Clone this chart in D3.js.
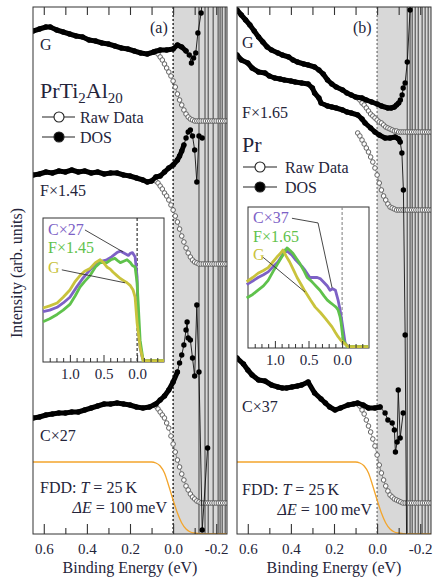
<!DOCTYPE html>
<html>
<head>
<meta charset="utf-8">
<script src="https://cdn.jsdelivr.net/npm/d3@7"></script>
<style>
  body { margin: 0; background: #fff; }
  svg text { font-family: "Liberation Serif", "Times New Roman", serif; fill: #24243a; }
</style>
</head>
<body>
<svg id="chart" width="434" height="578"></svg>
<script>
// ---- data (binding energy in eV, intensity in arb. units) ----
const xDomain = [0.65, -0.25]
const majorTicks = [0.6, 0.4, 0.2, 0.0, -0.2]
const minorTicks = [0.5, 0.3, 0.1, -0.1]
const insetDomain = [1.4, -0.4]
const insetMajor = [1.0, 0.5, 0.0]
const insetMinor = [1.3, 1.2, 1.1, 0.9, 0.8, 0.7, 0.6, 0.4, 0.3, 0.2, 0.1, -0.1, -0.2, -0.3]

// panel (a) PrTi2Al20
const dosGa = [[0.65,503],[0.62,505],[0.59,507],[0.57,507],[0.54,504],[0.51,502],[0.48,500],[0.45,498],[0.42,497],[0.39,494],[0.36,493],[0.33,491],[0.30,490],[0.27,488],[0.24,486],[0.21,485],[0.18,483],[0.15,481],[0.12,480],[0.09,482],[0.06,484],[0.03,484],[0.00,485],[-0.02,489],[-0.04,487],[-0.06,483],[-0.075,479],[-0.085,471],[-0.095,476],[-0.105,481],[-0.115,501],[-0.13,521],[-0.14,545]]
const dosFa = [[0.65,359],[0.62,360],[0.59,362],[0.56,361],[0.53,363],[0.50,362],[0.47,364],[0.44,362],[0.41,363],[0.38,361],[0.35,362],[0.32,360],[0.29,361],[0.26,361],[0.23,359],[0.20,358],[0.17,356],[0.14,354],[0.12,352],[0.10,353],[0.08,357],[0.06,358],[0.04,362],[0.02,366],[0.00,369],[-0.02,374],[-0.03,378],[-0.04,383],[-0.05,389],[-0.06,396],[-0.07,402],[-0.08,404],[-0.09,398],[-0.10,384],[-0.11,352],[-0.12,398],[-0.135,396]]
const dosCa = [[0.65,116],[0.62,117],[0.59,119],[0.56,120],[0.53,121],[0.50,121],[0.47,122],[0.44,122],[0.41,124],[0.38,126],[0.35,128],[0.32,130],[0.29,130],[0.26,131],[0.23,130],[0.20,129],[0.17,127],[0.14,126],[0.11,127],[0.08,130],[0.06,134],[0.04,138],[0.02,144],[0.00,152],[-0.02,162],[-0.03,171],[-0.04,179],[-0.05,189],[-0.06,204],[-0.065,212],[-0.07,196],[-0.08,194],[-0.09,176],[-0.10,158],[-0.11,229],[-0.12,162],[-0.135,4],[-0.16,86]]
const rawGa = [[0.09,482],[0.08,483],[0.07,480],[0.06,477],[0.05,474],[0.04,470],[0.03,466],[0.02,462],[0.01,458],[0.00,453],[-0.01,447],[-0.02,440],[-0.03,434],[-0.04,429],[-0.05,424],[-0.06,420],[-0.07,417],[-0.08,415],[-0.09,414],[-0.10,413],[-0.11,413],[-0.12,413],[-0.13,413],[-0.14,413],[-0.15,413],[-0.16,413],[-0.17,413],[-0.18,413],[-0.19,413],[-0.20,413],[-0.21,413],[-0.22,413],[-0.23,413],[-0.24,413],[-0.25,413]]
const rawFa = [[0.09,354],[0.08,353],[0.07,351],[0.06,348],[0.05,345],[0.04,341],[0.03,338],[0.02,334],[0.01,329],[0.00,324],[-0.01,318],[-0.02,312],[-0.03,305],[-0.04,298],[-0.05,292],[-0.06,286],[-0.07,281],[-0.08,277],[-0.09,274],[-0.10,272],[-0.11,271],[-0.12,270],[-0.13,270],[-0.14,270],[-0.15,270],[-0.16,270],[-0.17,270],[-0.18,270],[-0.19,270],[-0.20,270],[-0.21,270],[-0.22,270],[-0.23,270],[-0.24,270],[-0.25,270]]
const rawCa = [[0.09,129],[0.08,128],[0.07,125],[0.06,122],[0.05,119],[0.04,116],[0.03,111],[0.02,106],[0.01,98],[0.00,90],[-0.01,82],[-0.02,74],[-0.03,67],[-0.04,60],[-0.05,54],[-0.06,48],[-0.07,44],[-0.08,40],[-0.09,37],[-0.10,35],[-0.11,33],[-0.12,32],[-0.13,31],[-0.14,31],[-0.15,31],[-0.16,31],[-0.17,31],[-0.18,31],[-0.19,31],[-0.20,31],[-0.21,31],[-0.22,31],[-0.23,31],[-0.24,31],[-0.25,31]]
const spikesA = [-0.12, -0.148, -0.163, -0.186, -0.209, -0.218, -0.228, -0.242]

// panel (b) Pr
const dosGb = [[0.65,524],[0.63,519],[0.61,514],[0.59,509],[0.57,503],[0.55,497],[0.53,492],[0.51,487],[0.49,484],[0.46,481],[0.44,479],[0.41,477],[0.39,474],[0.37,472],[0.34,470],[0.32,469],[0.29,467],[0.27,464],[0.25,460],[0.23,454],[0.21,450],[0.19,447],[0.16,444],[0.14,441],[0.12,439],[0.10,437],[0.07,436],[0.05,434],[0.025,432],[0.00,430],[-0.02,428],[-0.05,426],[-0.065,426],[-0.08,427],[-0.09,429],[-0.10,431],[-0.108,434],[-0.116,439],[-0.121,446],[-0.13,451],[-0.14,472],[-0.153,524],[-0.165,560]]
const dosFb = [[0.65,479],[0.63,474],[0.60,471],[0.58,466],[0.55,462],[0.52,461],[0.50,458],[0.475,456],[0.45,455],[0.43,454],[0.40,453],[0.38,452],[0.35,451],[0.32,450],[0.30,446],[0.29,441],[0.27,436],[0.26,431],[0.23,428],[0.21,427],[0.19,426],[0.16,424],[0.14,422],[0.12,421],[0.09,419],[0.07,415],[0.056,411],[0.03,406],[0.01,402],[-0.01,399],[-0.037,396],[-0.06,396],[-0.084,397],[-0.10,395],[-0.107,392],[-0.115,381],[-0.122,344],[-0.13,199],[-0.14,-100]]
const dosCb = [[0.65,176],[0.62,170],[0.60,164],[0.58,159],[0.55,154],[0.52,153],[0.49,149],[0.46,147],[0.44,146],[0.42,146],[0.395,147],[0.37,148],[0.35,149],[0.32,152],[0.29,141],[0.26,135],[0.24,131],[0.22,127],[0.195,124],[0.17,126],[0.135,129],[0.11,130],[0.09,131],[0.065,129],[0.04,126],[0.01,126],[-0.014,127],[-0.037,121],[-0.05,114],[-0.07,111],[-0.08,104],[-0.085,82],[-0.093,92],[-0.098,144],[-0.107,96],[-0.121,121]]
const rawGb = [[0.09,436],[0.08,434],[0.07,431],[0.06,429],[0.05,426],[0.04,423],[0.03,420],[0.02,418],[0.01,416],[0.00,414],[-0.01,412],[-0.02,411],[-0.03,409],[-0.04,407],[-0.05,406],[-0.06,405],[-0.07,404],[-0.08,403],[-0.09,403],[-0.10,402],[-0.11,402],[-0.12,402],[-0.13,402],[-0.14,402],[-0.15,402],[-0.16,402],[-0.17,402],[-0.18,402],[-0.19,402],[-0.20,402],[-0.21,402],[-0.22,402],[-0.23,402],[-0.24,402],[-0.25,402]]
const rawFb = [[0.09,401],[0.08,398],[0.07,394],[0.06,390],[0.05,386],[0.04,382],[0.03,377],[0.02,372],[0.01,366],[0.00,359],[-0.01,351],[-0.02,344],[-0.03,338],[-0.04,334],[-0.05,330],[-0.06,327],[-0.07,326],[-0.08,325],[-0.09,324],[-0.10,324],[-0.11,324],[-0.12,324],[-0.13,324],[-0.14,324],[-0.15,324],[-0.16,324],[-0.17,324],[-0.18,324],[-0.19,324],[-0.20,324],[-0.21,324],[-0.22,324],[-0.23,324],[-0.24,324],[-0.25,324]]
const rawCb = [[0.09,130],[0.08,128],[0.07,124],[0.06,120],[0.05,114],[0.04,108],[0.03,102],[0.02,95],[0.01,88],[0.00,79],[-0.01,69],[-0.02,61],[-0.03,54],[-0.04,48],[-0.05,43],[-0.06,39],[-0.07,37],[-0.08,35],[-0.09,34],[-0.10,33],[-0.11,32],[-0.12,31],[-0.13,31],[-0.14,31],[-0.15,31],[-0.16,31],[-0.17,31],[-0.18,31],[-0.19,31],[-0.20,31],[-0.21,31],[-0.22,31],[-0.23,31],[-0.24,31],[-0.25,31]]
const spikesB = [-0.14, -0.153, -0.163, -0.177, -0.191, -0.209, -0.223, -0.237]

// Fermi-Dirac distribution, T = 25 K, broadened by dE = 100 meV
const fdd = [[0.65,72],[0.30,72],[0.10,72],[0.08,71],[0.06,68],[0.04,61],[0.02,48],[0.00,34],[-0.02,21],[-0.04,11],[-0.06,5],[-0.08,2],[-0.10,1],[-0.14,0],[-0.25,0]]

// insets: normalized spectra
const insCa = [[1.40,0.35],[1.30,0.36],[1.19,0.38],[1.10,0.41],[1.00,0.45],[0.90,0.52],[0.81,0.58],[0.70,0.64],[0.60,0.69],[0.52,0.70],[0.45,0.71],[0.38,0.73],[0.30,0.76],[0.25,0.77],[0.21,0.76],[0.17,0.75],[0.13,0.74],[0.10,0.755],[0.07,0.76],[0.03,0.73],[0.0,0.59],[-0.015,0.27],[-0.045,0.10],[-0.075,0.035],[-0.10,0.01],[-0.40,0.01]]
const insFa = [[1.40,0.28],[1.30,0.30],[1.19,0.33],[1.10,0.36],[1.00,0.40],[0.92,0.46],[0.85,0.52],[0.78,0.56],[0.70,0.60],[0.62,0.66],[0.55,0.69],[0.50,0.69],[0.45,0.69],[0.39,0.71],[0.33,0.72],[0.28,0.70],[0.25,0.69],[0.20,0.70],[0.15,0.71],[0.10,0.69],[0.07,0.67],[0.03,0.66],[0.0,0.55],[-0.045,0.15],[-0.09,0.01],[-0.40,0.01]]
const insGa = [[1.40,0.375],[1.30,0.39],[1.19,0.41],[1.10,0.45],[1.00,0.50],[0.92,0.56],[0.85,0.60],[0.78,0.63],[0.70,0.65],[0.62,0.69],[0.55,0.71],[0.50,0.69],[0.45,0.66],[0.40,0.645],[0.36,0.625],[0.30,0.60],[0.25,0.58],[0.20,0.565],[0.15,0.55],[0.10,0.53],[0.06,0.50],[0.03,0.45],[0.0,0.27],[-0.045,0.10],[-0.09,0.01],[-0.40,0.01]]
const insCb = [[1.42,0.45],[1.33,0.475],[1.25,0.50],[1.17,0.52],[1.10,0.54],[1.03,0.575],[0.955,0.61],[0.90,0.65],[0.85,0.695],[0.80,0.68],[0.75,0.66],[0.70,0.63],[0.66,0.61],[0.60,0.58],[0.55,0.55],[0.48,0.50],[0.42,0.50],[0.37,0.50],[0.32,0.49],[0.28,0.47],[0.22,0.44],[0.18,0.41],[0.14,0.42],[0.10,0.41],[0.06,0.34],[0.03,0.27],[0.0,0.18],[-0.045,0.035],[-0.09,0.01],[-0.39,0.01]]
const insFb = [[1.42,0.355],[1.33,0.38],[1.25,0.41],[1.17,0.44],[1.10,0.48],[1.03,0.54],[0.955,0.60],[0.88,0.66],[0.82,0.71],[0.77,0.69],[0.73,0.67],[0.68,0.635],[0.63,0.60],[0.57,0.55],[0.52,0.50],[0.47,0.48],[0.43,0.46],[0.38,0.435],[0.33,0.41],[0.27,0.37],[0.22,0.34],[0.17,0.32],[0.13,0.305],[0.09,0.29],[0.06,0.27],[0.03,0.22],[0.015,0.18],[-0.015,0.057],[-0.075,0.01],[-0.39,0.01]]
const insGb = [[1.42,0.47],[1.33,0.50],[1.25,0.53],[1.17,0.55],[1.10,0.57],[1.03,0.61],[0.97,0.645],[0.92,0.67],[0.88,0.695],[0.83,0.65],[0.78,0.61],[0.72,0.55],[0.67,0.50],[0.61,0.45],[0.55,0.40],[0.47,0.34],[0.40,0.29],[0.32,0.25],[0.25,0.21],[0.20,0.18],[0.15,0.15],[0.10,0.11],[0.06,0.08],[0.02,0.055],[-0.015,0.04],[-0.09,0.01],[-0.39,0.01]]

const purple = "#7d61c6", green = "#5fc24c", yellow = "#c9c33c"

// ---- layout ----
const svg = d3.select("#chart")
const plotTop = 7, plotBottom = 534
const y = d3.scaleLinear().domain([0, 527]).range([plotBottom, plotTop])

const panels = [
  {id: "a", x0: 33, x1: 227, spikes: spikesA, zeroColor: "#111",
   dos: [{data: dosGa, trail: -0.06}, {data: dosFa, trail: -0.05}, {data: dosCa, trail: -0.02}],
   raw: [rawGa, rawFa, rawCa],
   tag: "(a)", tagPos: [150, 33],
   labels: [["G", 40, 50], ["F×1.45", 40, 196], ["C×27", 40, 441]],
   title: [["PrTi", 0], ["2", 1], ["Al", 0], ["20", 1]], titlePos: [40, 98],
   legend: {x0: 42, x1: 75, xm: 59, tx: 80, yRaw: 117, yDos: 137},
   fddText: [40, 493], dEText: [167, 513],
   inset: {x0: 43, x1: 164, y0: 218, y1: 362, zeroColor: "#222",
     series: [[insCa, purple], [insFa, green], [insGa, yellow]],
     labels: [["C×27", purple, 235], ["F×1.45", green, 253], ["G", yellow, 273]],
     leaders: [[[0.776,0.917],[0.209,0.764]], [[1.12,0.64],[0.18,0.55]]]}},
  {id: "b", x0: 237, x1: 431, spikes: spikesB, zeroColor: "#777",
   dos: [{data: dosGb, trail: -0.1}, {data: dosFb, trail: -0.107}, {data: dosCb, trail: -0.014}],
   raw: [rawGb, rawFb, rawCb],
   tag: "(b)", tagPos: [353, 33],
   labels: [["G", 242, 48], ["F×1.65", 242, 118], ["C×37", 242, 412]],
   title: [["Pr", 0]], titlePos: [242, 152],
   legend: {x0: 243, x1: 277, xm: 260, tx: 285, yRaw: 167, yDos: 187},
   fddText: [242, 495], dEText: [372, 515],
   inset: {x0: 248, x1: 369, y0: 207, y1: 348, zeroColor: "#888",
     series: [[insCb, purple], [insFb, green], [insGb, yellow]],
     labels: [["C×37", purple, 223], ["F×1.65", green, 242], ["G", yellow, 260]],
     leaders: [[[0.746,0.92],[0.358,0.887],[0.149,0.426]], [[1.18,0.645],[0.552,0.397]]]}}
]

function drawPanel(p) {
  const x = d3.scaleLinear().domain(xDomain).range([p.x0, p.x1])
  const g = svg.append("g")
  svg.append("clipPath").attr("id", "clip-" + p.id).append("rect")
     .attr("x", p.x0).attr("y", plotTop).attr("width", p.x1 - p.x0).attr("height", plotBottom - plotTop)
  const plot = g.append("g").attr("clip-path", `url(#clip-${p.id})`)

  // shaded region above E_F
  plot.append("rect")
      .attr("x", x(0)).attr("y", plotTop)
      .attr("width", x(-0.25) - x(0)).attr("height", plotBottom - plotTop)
      .attr("fill", "#d8d8d8")
  // diverging DOS traces
  plot.selectAll("line.spike").data(p.spikes).join("line")
      .attr("class", "spike")
      .attr("x1", d => x(d)).attr("x2", d => x(d))
      .attr("y1", plotTop).attr("y2", plotBottom)
      .attr("stroke", "#6a6a6a").attr("stroke-width", 1.4)
  plot.append("line")
      .attr("x1", x(0)).attr("x2", x(0)).attr("y1", plotTop).attr("y2", plotBottom)
      .attr("stroke", p.zeroColor).attr("stroke-width", 1.3).attr("stroke-dasharray", "2,2")

  const line = d3.line().x(d => x(d[0])).y(d => y(d[1]))
  const smooth = d3.line().x(d => x(d[0])).y(d => y(d[1])).curve(d3.curveMonotoneX)

  plot.append("path").datum(fdd).attr("d", smooth)
      .attr("fill", "none").attr("stroke", "#f3a52c").attr("stroke-width", 1.3)

  p.raw.forEach(s => {
    plot.append("path").datum(s).attr("d", line)
        .attr("fill", "none").attr("stroke", "#777").attr("stroke-width", 0.8)
    plot.append("g").selectAll("circle").data(s).join("circle")
        .attr("cx", d => x(d[0])).attr("cy", d => y(d[1])).attr("r", 2.3)
        .attr("fill", "#fff").attr("stroke", "#555").attr("stroke-width", 0.9)
  })

  p.dos.forEach(s => {
    plot.append("path").datum(s.data.filter(d => d[0] >= s.trail)).attr("d", line)
        .attr("fill", "none").attr("stroke", "#000").attr("stroke-width", 5)
        .attr("stroke-linejoin", "round").attr("stroke-linecap", "round")
    plot.append("path").datum(s.data).attr("d", line)
        .attr("fill", "none").attr("stroke", "#111").attr("stroke-width", 0.9)
    plot.append("g").selectAll("circle").data(s.data).join("circle")
        .attr("cx", d => x(d[0])).attr("cy", d => y(d[1])).attr("r", 2.7)
        .attr("fill", "#000")
  })

  // frame and ticks
  g.append("rect").attr("x", p.x0).attr("y", plotTop)
   .attr("width", p.x1 - p.x0).attr("height", plotBottom - plotTop)
   .attr("fill", "none").attr("stroke", "#333").attr("stroke-width", 1)

  const bottomMajor = g.append("g").attr("transform", `translate(0,${plotBottom})`)
     .call(d3.axisBottom(x).tickValues(majorTicks).tickSize(-10).tickPadding(9).tickFormat(d => d.toFixed(1)))
  const bottomMinor = g.append("g").attr("transform", `translate(0,${plotBottom})`)
     .call(d3.axisBottom(x).tickValues(minorTicks).tickSize(-6).tickFormat(""))
  const topAx = g.append("g").attr("transform", `translate(0,${plotTop})`)
     .call(d3.axisTop(x).tickValues(majorTicks.concat(minorTicks)).tickSize(-8).tickFormat(""))
  ;[bottomMajor, bottomMinor, topAx].forEach(a => {
    a.select(".domain").remove()
    a.selectAll(".tick line").attr("stroke", "#333").attr("stroke-width", 1.1)
  })
  bottomMajor.selectAll(".tick text").attr("font-size", 15)

  g.append("text").text("Binding Energy (eV)")
   .attr("x", (p.x0 + p.x1) / 2).attr("y", 573).attr("text-anchor", "middle").attr("font-size", 16)

  // annotations
  g.append("text").text(p.tag).attr("x", p.tagPos[0]).attr("y", p.tagPos[1]).attr("font-size", 16)
  p.labels.forEach(([t, lx, ly]) => g.append("text").text(t).attr("x", lx).attr("y", ly).attr("font-size", 16))

  const title = g.append("text").attr("x", p.titlePos[0]).attr("y", p.titlePos[1]).attr("font-size", 22)
  p.title.forEach(([t, sub]) => {
    const ts = title.append("tspan").text(t)
    if (sub) ts.attr("font-size", 15).attr("dy", 5)
    else ts.attr("dy", title.selectAll("tspan").size() > 1 ? -5 : 0)
  })

  const lg = p.legend
  ;[["Raw Data", lg.yRaw, "#fff"], ["DOS", lg.yDos, "#000"]].forEach(([t, ly, fill]) => {
    g.append("line").attr("x1", lg.x0).attr("x2", lg.x1).attr("y1", ly).attr("y2", ly)
     .attr("stroke", "#222").attr("stroke-width", 1.2)
    g.append("circle").attr("cx", lg.xm).attr("cy", ly).attr("r", 5)
     .attr("fill", fill).attr("stroke", "#222").attr("stroke-width", 1.1)
    g.append("text").text(t).attr("x", lg.tx).attr("y", ly + 5.5).attr("font-size", 16)
  })

  const ft = g.append("text").attr("x", p.fddText[0]).attr("y", p.fddText[1]).attr("font-size", 16)
  ft.append("tspan").text("FDD: ")
  ft.append("tspan").text("T").attr("font-style", "italic")
  ft.append("tspan").text(" = 25\u2009K")
  const et = g.append("text").attr("x", p.dEText[0]).attr("y", p.dEText[1])
              .attr("font-size", 16).attr("text-anchor", "end")
  et.append("tspan").text("ΔE").attr("font-style", "italic")
  et.append("tspan").text(" = 100\u2009meV")

  drawInset(g, p.inset)
}

function drawInset(g, s) {
  const x = d3.scaleLinear().domain(insetDomain).range([s.x0, s.x1])
  const yy = d3.scaleLinear().domain([0, 1]).range([s.y1, s.y0])
  g.append("rect").attr("x", s.x0).attr("y", s.y0)
   .attr("width", s.x1 - s.x0).attr("height", s.y1 - s.y0)
   .attr("fill", "#fff").attr("stroke", "#333").attr("stroke-width", 1)
  g.append("line").attr("x1", x(0)).attr("x2", x(0)).attr("y1", s.y0).attr("y2", s.y1)
   .attr("stroke", s.zeroColor).attr("stroke-width", 1.1).attr("stroke-dasharray", "3,2")

  const line = d3.line().x(d => x(d[0])).y(d => yy(d[1]))
  s.series.forEach(([data, color]) => {
    g.append("path").datum(data).attr("d", line)
     .attr("fill", "none").attr("stroke", color).attr("stroke-width", 2.8)
     .attr("stroke-linejoin", "round")
  })

  const major = g.append("g").attr("transform", `translate(0,${s.y1})`)
     .call(d3.axisBottom(x).tickValues(insetMajor).tickSize(-7).tickPadding(6).tickFormat(d => d.toFixed(1)))
  const minor = g.append("g").attr("transform", `translate(0,${s.y1})`)
     .call(d3.axisBottom(x).tickValues(insetMinor).tickSize(-4).tickFormat(""))
  ;[major, minor].forEach(a => {
    a.select(".domain").remove()
    a.selectAll(".tick line").attr("stroke", "#333")
  })
  major.selectAll(".tick text").attr("font-size", 15)

  s.leaders.forEach(pts => {
    g.append("path").datum(pts).attr("d", line)
     .attr("fill", "none").attr("stroke", "#333").attr("stroke-width", 0.9)
  })
  s.labels.forEach(([t, color, ly]) => {
    g.append("text").text(t).attr("x", s.x0 + 5).attr("y", ly)
     .attr("font-size", 16).style("fill", color)
  })
}

panels.forEach(drawPanel)

svg.append("text").text("Intensity (arb. units)")
   .attr("transform", "translate(22,273) rotate(-90)")
   .attr("text-anchor", "middle").attr("font-size", 16)
</script>
</body>
</html>
